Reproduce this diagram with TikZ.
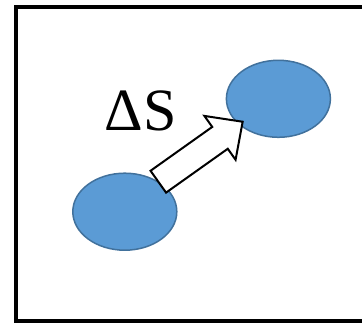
\documentclass[tikz,border=0pt]{standalone}
\usepackage{fontspec}
\setmainfont{Liberation Serif}
\usetikzlibrary{shapes.geometric}
\definecolor{blobfill}{HTML}{5B9BD5}
\definecolor{blobline}{HTML}{41719C}
\begin{document}
\begin{tikzpicture}[x=1pt,y=-1pt,
  blob/.style={ellipse, draw=blobline, fill=blobfill, line width=1.5pt, inner sep=0pt},
  frame/.style={draw=black, line width=3.5pt},
  blockarrow/.style={draw=black, fill=white, line width=2pt, line join=miter},
  bigtext/.style={inner sep=0pt, font=\fontsize{60}{60}\selectfont}]
\useasboundingbox (0,0) rectangle (362,323);
\clip (0,0) rectangle (362,323);
\fill[white] (0,0) rectangle (362,323);
\draw[frame] (16,7) rectangle (380,321);
\node[blob, minimum width=104pt, minimum height=77pt] (a) at (124.8,211.7) {};
\node[blob, minimum width=104pt, minimum height=77pt] (b) at (278.4,98.8) {};
\coordinate (t) at (158.3,181.7);
\draw[blockarrow, shift={(t)}, rotate=35.4]
  (0,-13.4) -- (75.7,-13.4) -- (75.7,-26.9) -- (103.5,0) -- (75.7,26.9) -- (75.7,13.4) -- (0,13.4) -- cycle;
\node[bigtext] (ds) at (140.8,111.3) {ΔS};
\end{tikzpicture}
\end{document}
